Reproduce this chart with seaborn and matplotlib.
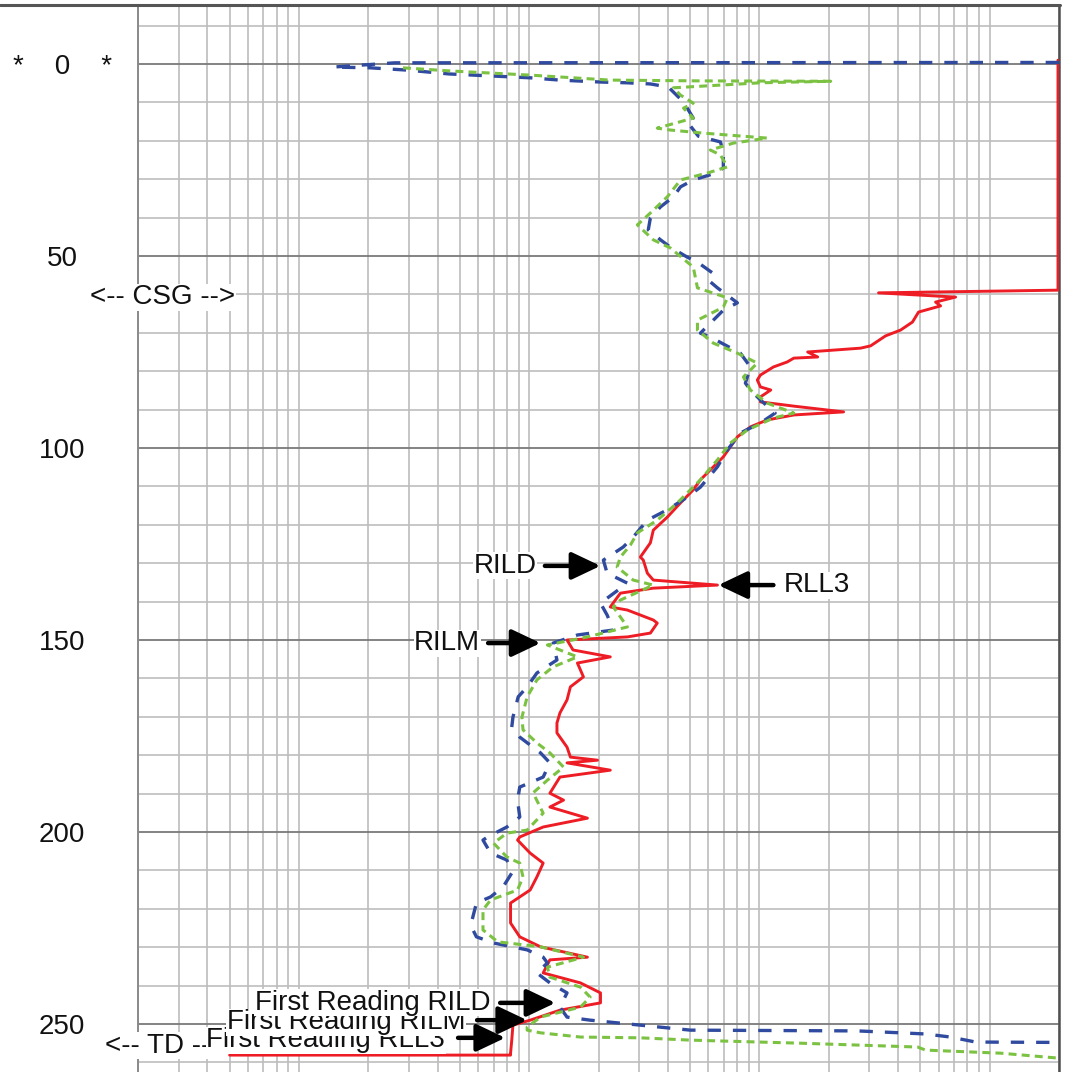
import numpy as np
import pandas as pd
import matplotlib
matplotlib.use("Agg")
import matplotlib.pyplot as plt
import matplotlib.transforms as mtransforms
from matplotlib.lines import Line2D
from matplotlib.ticker import LogLocator, NullFormatter, NullLocator, FixedLocator
import seaborn as sns

# ---------------- data ----------------
rild_depth = [-0.4, -0.3, 0.8, 1.0, 1.6, 2.6, 3.6, 4.2, 4.7, 4.9, 5.2, 6.0, 9.9, 14.1, 15.1, 18.8, 20.3,
              22.9, 27.1, 28.6, 30.2, 32.0, 34.6, 37.2, 40.1, 43.2, 45.8, 47.7, 50.3, 51.6, 54.4, 56.3,
              58.3, 62.2, 64.1, 70.1, 71.1, 75.3, 78.9, 83.1, 84.9, 87.5, 90.9, 93.5, 96.1, 100.5, 104.9,
              110.2, 112.8, 116.1, 118.8, 123.2, 125.8, 129.2, 132.6, 135.2, 140.4, 143.5, 147.4, 148.7,
              150.8, 155.2, 158.6, 162.2, 164.8, 170.1, 172.7, 175.3, 179.4, 182.0, 185.7, 188.3, 191.7,
              196.1, 198.7, 201.3, 202.1, 205.5, 207.3, 210.7, 214.3, 216.9, 218.5, 222.9, 225.5, 227.3,
              228.9, 230.7, 232.6, 234.1, 236.7, 239.3, 241.9, 245.6, 248.2, 249.0, 250.3, 251.6, 251.8,
              252.3, 252.6, 253.4, 254.7, 254.8]
rild_value = [2000, 2.6, 1.41, 2.04, 2.96, 4.5, 10.1, 13.6, 20.4, 26.7, 33.6, 40.2, 46.8, 51.6, 48.6, 54.3,
              67.7, 69.7, 69.7, 63.1, 51.6, 45.4, 42.3, 37.2, 33.6, 32.9, 37.2, 41.0, 48.6, 53.8, 62.5, 60.0,
              65.7, 80.2, 69.7, 55.4, 61.2, 82.6, 91.4, 86.9, 91.4, 101, 117, 101, 82.6, 72.6, 65.7, 55.4,
              48.6, 39.8, 32.6, 28.3, 25.6, 21.0, 21.8, 26.7, 20.4, 21.8, 23.2, 16.2, 12.7, 13.2, 10.8, 9.8,
              8.96, 8.5, 8.4, 9.1, 11.2, 12.3, 11.5, 9.1, 8.9, 9.1, 8.0, 6.6, 6.3, 6.8, 8.0, 8.4, 7.7, 6.8,
              5.9, 5.65, 5.7, 5.9, 7.0, 9.8, 11.5, 12.0, 10.8, 12.3, 14.6, 13.6, 14.6, 18.4, 30.4, 50.1, 267,
              410, 527, 676, 869, 2000]

rilm_depth = [1.0, 1.8, 2.9, 4.2, 4.4, 4.5, 4.9, 6.2, 8.1, 10.2, 11.5, 14.1, 16.7, 17.2, 18.0, 19.3, 20.6,
              22.4, 23.7, 26.8, 28.4, 30.2, 34.6, 38.8, 41.9, 45.8, 47.9, 52.9, 58.3, 60.9, 63.3, 64.1, 66.7,
              69.3, 72.7, 75.3, 77.9, 81.5, 84.9, 88.3, 90.9, 92.2, 95.3, 98.7, 103.1, 108.3, 114.3, 118.8,
              122.1, 125.3, 128.4, 131.0, 134.4, 135.7, 139.6, 141.4, 146.6, 149.2, 151.3, 152.6, 154.4,
              157.0, 160.4, 164.8, 170.1, 173.4, 176.8, 179.4, 183.1, 186.5, 189.8, 195.1, 199.5, 200.3,
              202.9, 206.5, 208.1, 211.7, 215.1, 217.7, 220.3, 225.5, 228.6, 229.9, 232.6, 235.2, 237.8,
              240.4, 243.0, 245.6, 248.2, 250.8, 251.6, 252.3, 253.4, 253.6, 254.2, 255.0, 256.0, 256.8,
              257.6, 258.9]
rilm_value = [2.83, 4.5, 10.1, 22.5, 55.4, 204, 101, 42.3, 45.4, 51.6, 46.8, 51.6, 36.0, 41.0, 57.1, 108,
              77.1, 61.2, 67.7, 72.6, 59.4, 45.4, 39.8, 33.6, 29.5, 34.6, 41.0, 51.6, 53.8, 72.6, 69.7, 65.7,
              53.8, 53.8, 63.1, 80.2, 97.9, 85.2, 91.4, 108, 141, 115, 88.7, 74.8, 65.7, 55.4, 44.0, 36.0,
              29.5, 27.5, 24.9, 24.1, 28.3, 34.6, 24.9, 23.2, 26.7, 17.9, 12.0, 13.6, 16.2, 12.7, 10.8, 9.8,
              9.3, 9.4, 10.8, 12.3, 14.1, 12.0, 10.4, 11.5, 9.8, 8.0, 7.0, 8.0, 9.1, 9.4, 8.9, 6.8, 6.3, 6.3,
              7.3, 11.2, 17.2, 12.0, 12.3, 16.7, 18.4, 16.7, 11.2, 9.8, 9.8, 11.2, 16.7, 30.4, 50.1, 151,
              486, 527, 1117, 2000]

rll3_depth = [-1.0, 58.9, 59.6, 60.7, 62.0, 63.0, 64.6, 67.2, 69.3, 70.8, 73.4, 74.0, 75.0, 76.3, 76.6,
              77.6, 78.9, 81.0, 82.3, 84.1, 84.9, 86.7, 88.0, 89.1, 90.6, 91.4, 92.7, 94.5, 97.1, 99.7,
              102.3, 104.9, 108.3, 110.9, 114.3, 118.0, 121.4, 124.7, 128.4, 129.2, 132.6, 134.4, 135.7,
              136.5, 137.8, 141.4, 142.2, 144.8, 145.6, 148.2, 149.2, 150.0, 152.6, 154.4, 156.0, 159.6,
              162.2, 165.6, 169.0, 171.6, 174.2, 177.9, 180.5, 181.3, 182.0, 183.9, 185.7, 189.9, 191.7,
              193.5, 196.4, 198.7, 201.3, 202.1, 205.5, 208.1, 211.7, 215.1, 218.5, 223.7, 227.3, 229.9,
              232.6, 233.3, 236.7, 239.3, 241.9, 244.5, 246.4, 249.0, 250.3, 254.2, 257.6, 258.1, 258.1]
rll3_value = [1980, 1980, 329, 711, 582, 612, 491, 462, 410, 353, 304, 275, 162, 179, 141, 132, 115, 101,
              97.9, 101, 112, 101, 101, 141, 232, 141, 108, 91.4, 80.2, 74.8, 69.7, 63.1, 55.4, 51.6, 45.4,
              39.8, 34.6, 33.6, 30.4, 31.3, 32.6, 34.6, 65.7, 34.6, 24.9, 22.5, 26.7, 34.6, 36.0, 33.6,
              26.7, 14.6, 15.5, 22.5, 16.2, 17.2, 15.1, 14.6, 13.6, 13.2, 13.2, 14.6, 15.1, 19.8, 14.6,
              22.5, 13.6, 12.3, 14.1, 12.3, 17.9, 11.5, 9.1, 8.9, 10.1, 11.5, 10.8, 10.1, 8.3, 8.3, 9.1,
              11.2, 17.9, 12.3, 11.5, 16.7, 20.4, 20.4, 13.6, 10.1, 8.5, 8.4, 8.3, 8.3, 0.5]

depth_ticks = [0, 50, 100, 150, 200, 250]
depth_tick_labels = ["*    0    *", "50", "100", "150", "200", "250"]

# ---------------- style ----------------
sns.set_style("white")
plt.rcParams["font.family"] = ["Liberation Sans", "DejaVu Sans"]
plt.rcParams["text.color"] = "#111111"
plt.rcParams["ytick.color"] = "#111111"

BLUE = "#2f4a9e"
GREEN = "#7cc242"
RED = "#ee1c24"

fig = plt.figure(figsize=(10.72, 10.72), dpi=100)
ax = fig.add_axes([138 / 1072, 0.0, 921 / 1072, 1067 / 1072])
ax.set_xscale("log")

d_rild = pd.DataFrame({"depth": rild_depth, "res": rild_value})
d_rilm = pd.DataFrame({"depth": rilm_depth, "res": rilm_value})
d_rll3 = pd.DataFrame({"depth": rll3_depth, "res": rll3_value})

sns.lineplot(data=d_rll3, x="res", y="depth", sort=False, estimator=None, orient="y",
             color=RED, linewidth=2.1, ax=ax, zorder=3)
sns.lineplot(data=d_rilm, x="res", y="depth", sort=False, estimator=None, orient="y",
             color=GREEN, linewidth=2.2, ax=ax, zorder=3.2)
ax.lines[-1].set_dashes([2.6, 1.7])
sns.lineplot(data=d_rild, x="res", y="depth", sort=False, estimator=None, orient="y",
             color=BLUE, linewidth=2.4, ax=ax, zorder=3.1)
ax.lines[-1].set_dashes([4.0, 3.6])

ax.set_xlim(0.2, 2000)
ax.set_ylim(262.5, -15.36)
ax.set_xlabel("")
ax.set_ylabel("")

# grid
ax.xaxis.set_major_locator(LogLocator(base=10, subs=np.arange(1, 10), numticks=60))
ax.xaxis.set_minor_locator(NullLocator())
ax.xaxis.set_major_formatter(NullFormatter())
ax.yaxis.set_major_locator(FixedLocator(depth_ticks))
ax.set_yticklabels(depth_tick_labels)
ax.yaxis.set_minor_locator(FixedLocator(np.arange(-10, 270, 10)))
ax.grid(axis="x", which="major", color="#bcbcbc", linewidth=1.2)
ax.grid(axis="y", which="minor", color="#bdbdbd", linewidth=1.2)
ax.grid(axis="y", which="major", color="#7a7a7a", linewidth=1.3)
ax.set_axisbelow(True)
ax.tick_params(axis="both", which="both", length=0)
ax.tick_params(axis="y", which="major", pad=54.5, labelsize=20, labelcolor="#111111")
for lbl in ax.get_yticklabels():
    lbl.set_horizontalalignment("center")

for s in ["top", "bottom"]:
    ax.spines[s].set_visible(False)
ax.spines["left"].set_color("#8a8a8a")
ax.spines["left"].set_linewidth(1.4)
ax.spines["right"].set_color("#505050")
ax.spines["right"].set_linewidth(1.8)

# frame line at the top of the figure
fig.add_artist(Line2D([0, 1060 / 1072], [1 - 4.5 / 1072] * 2, transform=fig.transFigure,
                      color="#555555", linewidth=2.2))

box = dict(boxstyle="square,pad=0.02", fc="white", ec="none")
tr = mtransforms.blended_transform_factory(ax.transAxes, ax.transData)
ax.text(0.027, 60.7, "<-- CSG -->", transform=tr, ha="center", va="center", fontsize=20,
        bbox=box, zorder=5, clip_on=False)
ax.text(0.030, 255.6, "<-- TD -->", transform=tr, ha="center", va="center", fontsize=20,
        bbox=box, zorder=5, clip_on=False)

arrow = dict(arrowstyle="-|>,head_length=0.8,head_width=0.38", lw=3.2, color="black",
             shrinkA=0, shrinkB=0, mutation_scale=22)


def label(text, xy, xytext, textpos, ha, z):
    ax.text(textpos[0], textpos[1], text, ha=ha, va="center", fontsize=20, bbox=box,
            zorder=z, clip_on=False)
    ax.annotate("", xy=xy, xytext=xytext, arrowprops=arrow, zorder=10)


label("RILD", (20.4, 130.7), (11.7, 130.7), (10.8, 130.7), "right", 6)
label("RLL3", (66.3, 135.7), (115, 135.7), (127, 135.7), "left", 6)
label("RILM", (11.2, 150.8), (6.63, 150.8), (6.12, 150.8), "right", 6)
label("First Reading RLL3", (7.87, 253.6), (4.91, 253.6), (4.31, 254.2), "right", 6)
label("First Reading RILM", (9.8, 249.0), (5.94, 249.0), (5.27, 249.6), "right", 7)
label("First Reading RILD", (13.0, 244.5), (7.48, 244.5), (6.77, 244.5), "right", 8)

fig.savefig("out.png", dpi=100)
